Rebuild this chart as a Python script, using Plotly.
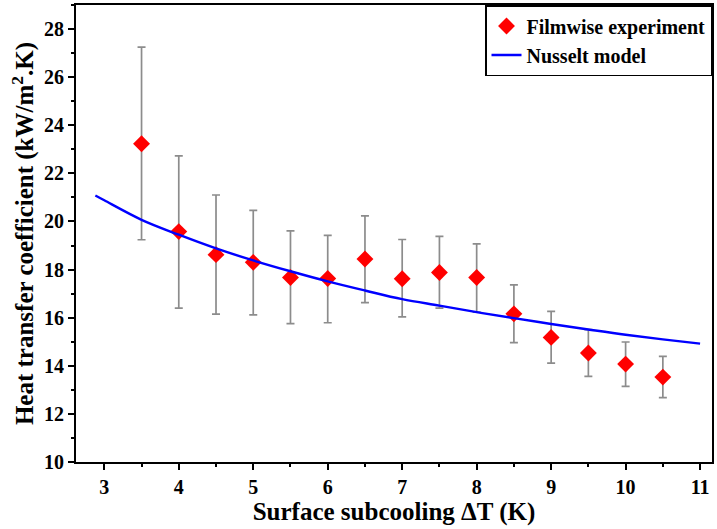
import plotly.graph_objects as go

# Filmwise condensation measurements
subcooling = [3.5, 4.0, 4.5, 5.0, 5.5, 6.0, 6.5, 7.0, 7.5, 8.0, 8.5, 9.0, 9.5, 10.0, 10.5]
htc_exp = [23.23, 19.58, 18.62, 18.30, 17.67, 17.63, 18.44, 17.62, 17.88, 17.67, 16.16, 15.18, 14.53, 14.07, 13.53]
err_upper = [27.25, 22.73, 21.10, 20.46, 19.61, 19.42, 20.23, 19.25, 19.38, 19.07, 17.36, 16.26, 15.50, 14.99, 14.39]
err_lower = [19.24, 16.40, 16.15, 16.12, 15.75, 15.79, 16.63, 16.03, 16.40, 16.23, 14.96, 14.11, 13.56, 13.14, 12.68]

# Nusselt model curve
model_dt = [2.88, 3.0, 3.5, 4.0, 4.5, 5.0, 5.5, 6.0, 6.5, 7.0, 7.5, 8.0, 8.5, 9.0, 9.5, 10.0, 10.5, 11.0]
model_htc = [21.08, 20.88, 20.07, 19.45, 18.88, 18.38, 17.93, 17.51, 17.13, 16.77, 16.50, 16.23,
             15.98, 15.74, 15.51, 15.29, 15.10, 14.92]

x_ticks = [3, 4, 5, 6, 7, 8, 9, 10, 11]
y_ticks = [10, 12, 14, 16, 18, 20, 22, 24, 26, 28]

err_plus = [u - v for u, v in zip(err_upper, htc_exp)]
err_minus = [v - l for v, l in zip(htc_exp, err_lower)]

serif = "Liberation Serif, Times New Roman, serif"

fig = go.Figure()
fig.add_trace(go.Scatter(
    x=subcooling, y=htc_exp, mode="markers", name="Filmwise experiment",
    marker=dict(symbol="diamond", size=13, color="#ff0000"),
    error_y=dict(type="data", symmetric=False, array=err_plus, arrayminus=err_minus,
                 color="#8c8c8c", thickness=1.7, width=4),
))
fig.add_trace(go.Scatter(
    x=model_dt, y=model_htc, mode="lines", name="Nusselt model",
    line=dict(color="#0000ff", width=2.4, shape="spline"),
))

axis_common = dict(
    showline=True, linecolor="black", linewidth=2, mirror=True,
    ticks="outside", ticklen=6, tickwidth=2, tickcolor="black",
    showgrid=False, zeroline=False,
    tickfont=dict(family=serif, size=20, color="black", weight="bold"),
)

fig.update_xaxes(
    range=[2.62, 11.16], tickvals=x_ticks,
    minor=dict(dtick=0.5, ticks="outside", ticklen=3, tickwidth=2, tickcolor="black"),
    title=dict(text="<b>Surface subcooling ΔT (K)</b>", font=dict(family=serif, size=25, color="black"),
               standoff=5),
    **axis_common,
)
fig.update_yaxes(
    range=[10, 29], tickvals=y_ticks,
    minor=dict(dtick=1, ticks="outside", ticklen=3, tickwidth=2, tickcolor="black"),
    title=dict(text="<b>Heat transfer coefficient (kW/m<sup>2</sup>.K)</b>",
               font=dict(family=serif, size=25, color="black"), standoff=3),
    **axis_common,
)

fig.update_layout(
    width=717, height=529,
    margin=dict(l=76, r=3, t=5, b=67),
    plot_bgcolor="white", paper_bgcolor="white",
    legend=dict(x=1, y=1, xanchor="right", yanchor="top",
                bordercolor="black", borderwidth=1.5, bgcolor="white",
                font=dict(family=serif, size=20, color="black", weight="bold"),
                tracegroupgap=0, itemwidth=30),
    showlegend=True,
)

fig.write_html("out.html")
